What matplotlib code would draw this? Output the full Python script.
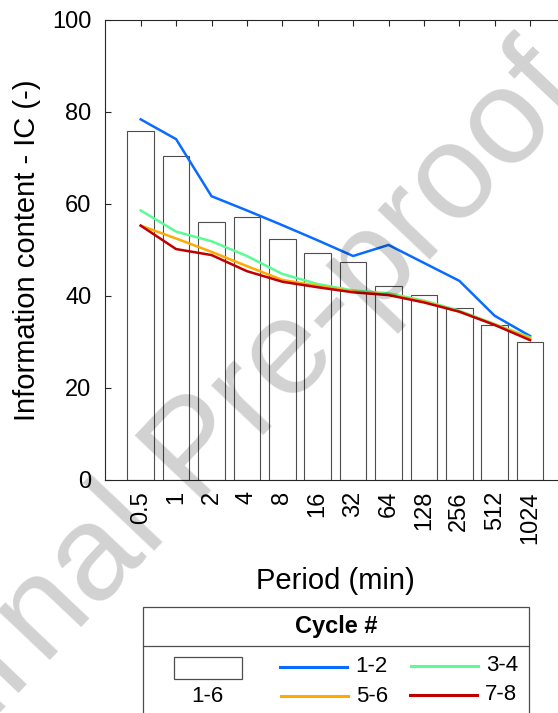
import numpy as np
import matplotlib
matplotlib.use("Agg")
import matplotlib.pyplot as plt
from matplotlib.patches import Rectangle

plt.rcParams['font.family'] = ['Liberation Sans', 'DejaVu Sans']

# information content per period
periods = ['0.5', '1', '2', '4', '8', '16', '32', '64', '128', '256', '512', '1024']
ic_all = [75.8, 70.4, 56.0, 57.1, 52.4, 49.3, 47.3, 42.1, 40.3, 37.3, 33.8, 30.1]   # cycles 1-6
ic_12 = [78.4, 74.1, 61.7, 58.6, 55.4, 52.1, 48.7, 51.1, 47.2, 43.3, 35.7, 31.3]
ic_34 = [58.6, 54.0, 51.9, 48.7, 44.8, 42.6, 41.2, 40.6, 39.0, 36.8, 33.9, 31.0]
ic_56 = [55.3, 52.5, 49.6, 46.5, 43.5, 42.2, 41.0, 40.3, 38.8, 36.6, 33.8, 30.8]
ic_78 = [55.3, 50.2, 48.9, 45.4, 43.1, 41.9, 40.8, 40.2, 38.6, 36.6, 33.7, 30.4]

series = [('1-2', ic_12, '#0a6cff'),
          ('3-4', ic_34, '#5cfb96'),
          ('5-6', ic_56, '#ffaa00'),
          ('7-8', ic_78, '#c00000')]

W, H = 558, 713
fig = plt.figure(figsize=(W / 100, H / 100), dpi=100)

# axes box runs past the right edge of the figure
x0, x1, y0, y1 = 105.3, 565.5, 20, 480
ax = fig.add_axes([x0 / W, 1 - y1 / H, (x1 - x0) / W, (y1 - y0) / H])

x = np.arange(1, len(periods) + 1)
ax.bar(x, ic_all, width=0.75, facecolor='white', edgecolor='#4d4d4d', linewidth=0.8, zorder=2)
for name, vals, col in series:
    ax.plot(x, vals, color=col, linewidth=1.8, zorder=3, solid_joinstyle='round')

ax.set_xlim(0, 13)
ax.set_ylim(0, 100)
ax.set_xticks(x)
ax.set_xticklabels(periods, rotation=90, fontsize=17)
ax.set_yticks(np.arange(0, 101, 20))
ax.tick_params(direction='in', length=4, width=0.8, colors='#262626', top=True, right=True)
ax.tick_params(axis='y', labelsize=17, pad=10)
ax.tick_params(axis='x', pad=8)
for lab in ax.get_xticklabels() + ax.get_yticklabels():
    lab.set_color('black')
for s in ax.spines.values():
    s.set_color('#262626')
    s.set_linewidth(0.8)
ax.set_ylabel('Information content - IC (-)', fontsize=21, labelpad=8)
ax.set_xlabel('Period (min)', fontsize=21, labelpad=17)

# legend panel drawn in pixel coordinates
lg = fig.add_axes([0, 0, 1, 1], zorder=5)
lg.set_xlim(0, W)
lg.set_ylim(H, 0)
lg.axis('off')
lg.patch.set_alpha(0)
lg.add_patch(Rectangle((142.7, 606.7), 529 - 142.7, 120, facecolor='white',
                       edgecolor='#4d4d4d', linewidth=0.9))
lg.plot([142.7, 529], [646, 646], color='#4d4d4d', linewidth=0.9)
lg.text(336, 627, 'Cycle #', fontsize=17, fontweight='bold', ha='center', va='center')
lg.add_patch(Rectangle((174, 656.7), 67.7, 22.3, facecolor='white',
                       edgecolor='#4d4d4d', linewidth=0.9))
lg.text(207, 696, '1-6', fontsize=16, ha='center', va='center')
entry_pos = {'1-2': (280, 666.7), '3-4': (411, 665.7), '5-6': (281, 696), '7-8': (410, 694.7)}
for name, vals, col in series:
    lx, ly = entry_pos[name]
    lg.plot([lx, lx + 67], [ly, ly], color=col, linewidth=2.2)
    lg.text(lx + 75, ly, name, fontsize=16, ha='left', va='center')

# watermark
fig.text(198 / W, 1 - 453 / H, 'Journal Pre-proof', rotation=46.5, fontsize=98,
         color='black', alpha=0.18, ha='center', va='center',
         rotation_mode='anchor', zorder=10)

fig.savefig('out.png', dpi=100)
